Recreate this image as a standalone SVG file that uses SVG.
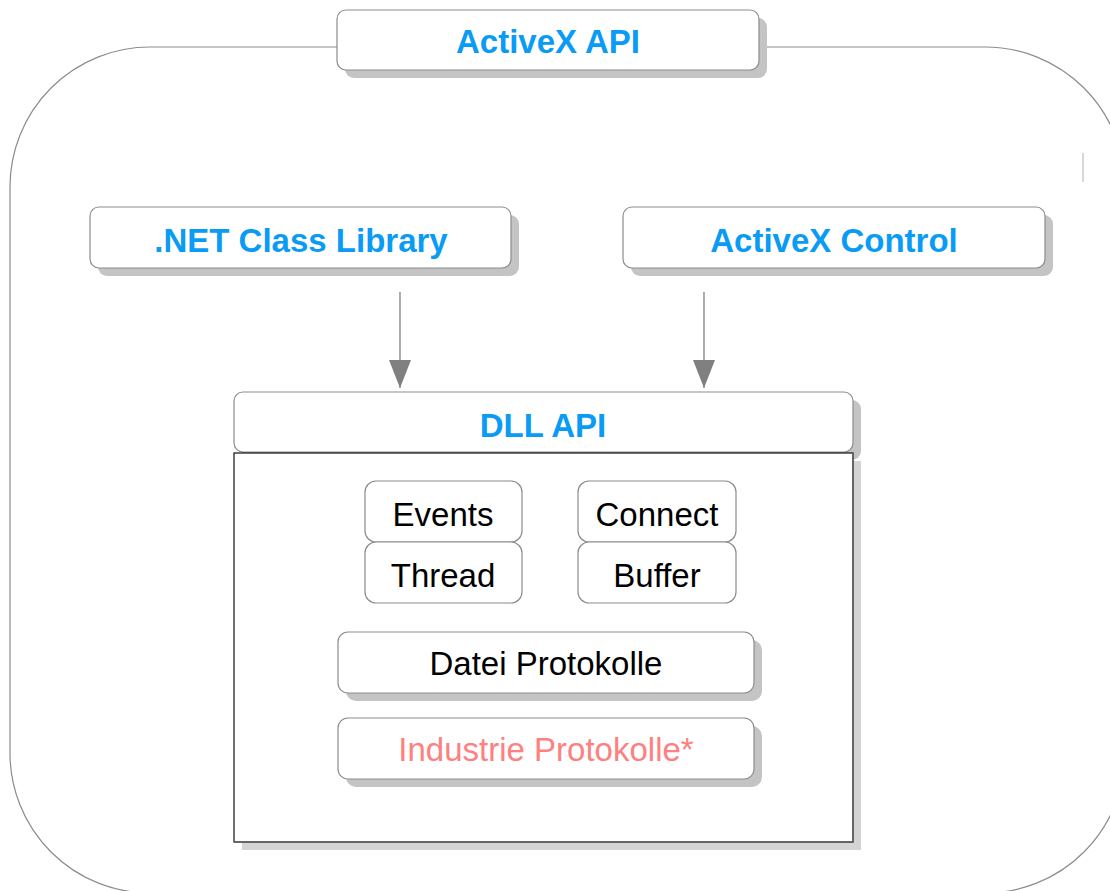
<svg xmlns="http://www.w3.org/2000/svg" width="1110" height="891" viewBox="0 0 1110 891">
<defs>
<style>
.box{fill:#fff;stroke:#8c8c8c;stroke-width:1.2}
.shd{fill:#c4c4c4}
.t{font-family:"Comic Sans MS","Liberation Sans",sans-serif;text-anchor:middle}
.b{fill:#0a9bf5;font-weight:bold;font-size:33px}
.k{fill:#000;font-size:33px}
.p{fill:#ff8080;font-size:33px}
.edge{stroke:#808080;stroke-width:1.3;fill:none}
</style>
<marker id="ah" markerWidth="28" markerHeight="22" refX="28" refY="11" orient="auto" markerUnits="userSpaceOnUse" viewBox="0 0 28 22">
<path d="M0,0 L28,11 L0,22 Z" fill="#808080"/>
</marker>
</defs>
<rect width="1110" height="891" fill="#fff"/>
<g id="outer">
<rect x="10" y="47" width="1115" height="846" rx="140" ry="140" fill="none" stroke="#8c8c8c" stroke-width="1.2"/>
<line x1="1083" y1="153" x2="1083" y2="182" stroke="#b0b0b0" stroke-width="1"/>
</g>
<g id="activex-api">
<rect class="shd" x="345" y="18" width="422" height="60" rx="9"/>
<rect class="box" x="337" y="10" width="422" height="60" rx="9"/>
<text class="t b" x="548" y="53">ActiveX API</text>
</g>
<g id="net-class-library">
<rect class="shd" x="98" y="215" width="421" height="61" rx="9"/>
<rect class="box" x="90" y="207" width="421" height="61" rx="9"/>
<text class="t b" x="301" y="252">.NET Class Library</text>
</g>
<g id="activex-control">
<rect class="shd" x="631" y="215" width="422" height="61" rx="9"/>
<rect class="box" x="623" y="207" width="422" height="61" rx="9"/>
<text class="t b" x="834" y="252">ActiveX Control</text>
</g>
<g id="connectors">
<line class="edge" x1="400" y1="292" x2="400" y2="388" marker-end="url(#ah)"/>
<line class="edge" x1="704" y1="292" x2="704" y2="388" marker-end="url(#ah)"/>
</g>
<g id="dll-api">
<rect class="shd" x="242" y="400" width="619" height="60" rx="9"/>
<rect class="box" x="234" y="392" width="619" height="60" rx="9"/>
<text class="t b" x="543" y="437">DLL API</text>
</g>
<g id="dll-body">
<rect x="242" y="461" width="619" height="389" fill="#d4d4d4"/>
<rect x="234" y="453" width="619" height="389" fill="#fff" stroke="#111" stroke-width="1.2"/>
<path d="M853,453 V842 H234" fill="none" stroke="#666" stroke-width="1.6"/>
</g>
<g id="events">
<rect class="box" x="365" y="481" width="157" height="61" rx="11"/>
<text class="t k" x="443" y="526">Events</text>
</g>
<g id="thread">
<rect class="box" x="365" y="542" width="157" height="61" rx="11"/>
<text class="t k" x="443" y="587">Thread</text>
</g>
<g id="connect">
<rect class="box" x="578" y="481" width="158" height="61" rx="11"/>
<text class="t k" x="657" y="526">Connect</text>
</g>
<g id="buffer">
<rect class="box" x="578" y="542" width="158" height="61" rx="11"/>
<text class="t k" x="657" y="587">Buffer</text>
</g>
<g id="datei-protokolle">
<rect class="shd" x="346" y="640" width="416" height="61" rx="10"/>
<rect class="box" x="338" y="632" width="416" height="61" rx="10"/>
<text class="t k" x="546" y="675">Datei Protokolle</text>
</g>
<g id="industrie-protokolle">
<rect class="shd" x="346" y="726" width="416" height="61" rx="10"/>
<rect class="box" x="338" y="718" width="416" height="61" rx="10"/>
<text class="t p" x="546" y="761">Industrie Protokolle*</text>
</g>
</svg>
